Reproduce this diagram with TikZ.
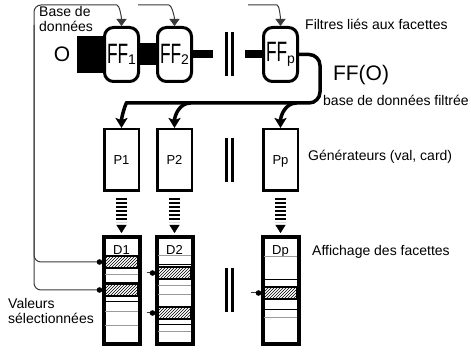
\documentclass[tikz,border=0pt]{standalone}
\usepackage{fontspec}
\setsansfont{Liberation Sans}
\usepackage{graphicx}
\usetikzlibrary{positioning,arrows.meta,calc,patterns}
\definecolor{fcLink}{HTML}{3A3A3A}
\definecolor{fcRow}{HTML}{9A9A9A}
\newcommand{\fcfont}{\fontsize{14}{15.5}\selectfont\sffamily}
\newcommand{\fcsmall}{\fontsize{13}{14}\selectfont\sffamily}
\newcommand{\fcbig}{\fontsize{21}{21}\selectfont\sffamily}
\newcommand{\FF}[1]{{\fontsize{28}{28}\selectfont\scalebox{0.62}[1]{FF}}\raisebox{-1.5pt}{\fontsize{14}{14}\selectfont #1}}
% lignes et cases hachurees des facettes (offsets depuis le haut)
\newcommand{\facetrow}[3]{\draw[#3] ($(#1.north west)+(3.5,-#2)$) -- ($(#1.north east)+(-3.5,-#2)$);}
\newcommand{\facethatch}[3]{\draw[hatchcell] ($(#1.north west)+(3.5,-#2)$) rectangle ($(#1.north east)+(-3.5,-#3)$);}
\tikzset{
    filterbox/.style={
        rectangle,
        draw,
        line width=3pt,
        rounded corners=9pt,
        fill=white,
        minimum width=34pt,
        minimum height=54pt,
        inner sep=0pt,
        font=\sffamily
    },
    genbox/.style={rectangle, draw, line width=2.5pt, minimum width=34.5pt, minimum height=61.5pt, inner sep=0pt, text depth=0pt, font=\fcsmall},
    facetbox/.style={rectangle, draw, line width=4pt, minimum width=36pt, minimum height=107pt, inner sep=0pt},
    facetname/.style={anchor=base, inner sep=0pt, font=\fcsmall},
    % Texte
    note/.style={font=\fcfont, inner sep=0pt, align=left},
    bigtext/.style={font=\fcbig, inner sep=0pt},
    % Traits
    pipe/.style={line width=#1, draw=black},
    bus/.style={line width=3.5pt, rounded corners=11pt, -{Stealth[length=10pt,width=12pt,inset=2pt]}},
    ladder/.style={line width=11pt, dash pattern=on 2.3pt off 1.7pt},
    ladderhead/.style={-{Triangle[width=10pt,length=8pt]}, line width=0.4pt},
    link/.style={draw=fcLink, line width=1pt, rounded corners=7pt},
    linkarrow/.style={link, -{Triangle[width=10pt,length=7pt]}},
    rowgray/.style={draw=fcRow, line width=1pt},
    rowblack/.style={draw=black, line width=1pt},
    hatchcell/.style={draw=black, line width=1.5pt, pattern=north east lines},
    sepbar/.style={line width=2.5pt}
}

\begin{document}
\begin{tikzpicture}[x=1pt, y=1pt]
\useasboundingbox (0,0) rectangle (471,-352);

% filtres
\node[filterbox] (FF1) at (121.5,-54.5) {\FF{1}};
\node[filterbox, right=16pt of FF1] (FF2) {\FF{2}};
\node[filterbox, right=69pt of FF2] (FFp) {\FF{p}};

% generateurs
\node[genbox, below=45pt of FF1] (P1) {P1};
\node[genbox, below=45pt of FF2] (P2) {P2};
\node[genbox, below=45pt of FFp] (Pp) {Pp};

% facettes
\node[facetbox, below=43pt of P1] (D1) {};
\node[facetbox, below=43pt of P2] (D2) {};
\node[facetbox, below=43pt of Pp] (Dp) {};
\node[facetname] (D1name) at ($(D1.north)+(0,-19.5)$) {D1};
\node[facetname] (D2name) at ($(D2.north)+(0,-19.5)$) {D2};
\node[facetname] (Dpname) at ($(Dp.north)+(0,-19.5)$) {Dp};

\facethatch{D1}{21}{33}
\facetrow{D1}{40}{rowgray}
\facetrow{D1}{47.5}{rowblack}
\facethatch{D1}{49}{61}
\facetrow{D1}{67}{rowblack}
\facetrow{D1}{77}{rowgray}
\facetrow{D1}{91}{rowgray}

\facetrow{D2}{21}{rowgray}
\facetrow{D2}{30}{rowblack}
\facethatch{D2}{32}{44}
\facetrow{D2}{51}{rowgray}
\facetrow{D2}{60}{rowgray}
\facethatch{D2}{72}{84}
\facetrow{D2}{90}{rowblack}
\facetrow{D2}{97}{rowgray}

\facetrow{Dp}{22}{rowgray}
\facetrow{Dp}{45}{rowblack}
\facethatch{Dp}{52}{64}
\facetrow{Dp}{75}{rowblack}
\facetrow{Dp}{83}{rowgray}

% base de donnees O
\node[bigtext] (orig) at (62,-54.5) {O};
\coordinate (src) at (77,-54.5);
\coordinate (cut1) at ($(FF2.east)+(20,0)$);
\coordinate (cut2) at ($(FFp.west)+(-17,0)$);
\draw[pipe=37pt] (src) -- (FF1.west);
\draw[pipe=22pt] (FF1.east) -- (FF2.west);
\draw[pipe=8pt] (FF2.east) -- (cut1);
\draw[pipe=8pt] (cut2) -- (FFp.west);

% FF(O) vers les generateurs
\coordinate (busturn) at (320,-103);
\draw[bus] (FFp.east) -| (busturn) -- ($(P1.north |- busturn)+(16,0)$) to[out=180,in=90] (P1.north);
\draw[bus] ($(P2.north |- busturn)+(16,0)$) to[out=180,in=90] (P2.north);
\draw[bus] ($(Pp.north |- busturn)+(16,0)$) to[out=180,in=90] (Pp.north);

\foreach \g/\d in {P1/D1, P2/D2, Pp/Dp} {
    \draw[ladder] ($(\g.south)+(0,-6)$) -- ($(\d.north)+(0,13)$);
    \draw[ladderhead] ($(\d.north)+(0,10)$) -- ($(\d.north)+(0,2)$);
}

% valeurs selectionnees
\coordinate (sel1) at ($(D1.north west)+(-2,-27)$);
\coordinate (sel2) at ($(D1.north west)+(-2,-55)$);
\coordinate (sel3) at ($(D2.north west)+(-2,-38)$);
\coordinate (sel4) at ($(D2.north west)+(-2,-78)$);
\coordinate (sel5) at ($(Dp.north west)+(-2,-58)$);
\coordinate (rail) at (34,-5);
\coordinate (feed2) at (138,-5);
\coordinate (feedp) at (248,-5);

\draw[linkarrow] (sel1) -| (rail) -- (110,-5) to[out=0,in=90] (FF1.north);
\draw[link] (sel2) -| ($(rail)+(0,-20)$);
\draw[link] ($(sel3)+(-6,0)$) -- (sel3);
\draw[link] ($(sel4)+(-6,0)$) -- (sel4);
\draw[link] ($(sel5)+(-8,0)$) -- (sel5);
\foreach \s in {sel1,sel2,sel3,sel4,sel5}
    \fill (\s) circle (2.8pt);
\draw[linkarrow] (feed2) -- (162,-5) to[out=0,in=90] (FF2.north);
\draw[linkarrow] (feedp) -- (270,-5) to[out=0,in=90] (FFp.north);

% separateurs
\foreach \y in {-54.5,-160,-290} {
    \draw[sepbar] (226.5,\y+22) -- (226.5,\y-22);
    \draw[sepbar] (232.5,\y+22) -- (232.5,\y-22);
}

% textes
\node[note, anchor=north west] (basedonnees) at (39,-6) {Base de\\données};
\node[note, anchor=west] (filtres) at (305,-24) {Filtres liés aux facettes};
\node[bigtext] (ffo) at (361,-75) {FF(O)};
\node[note, anchor=west] (filtree) at (323,-100) {base de données filtrée};
\node[note, anchor=west] (generateurs) at (308,-157) {Générateurs (val, card)};
\node[note, anchor=west] (affichage) at (312,-252) {Affichage des facettes};
\node[note, anchor=west] (valeurs) at (8,-311) {Valeurs\\sélectionnées};
\end{tikzpicture}
\end{document}
